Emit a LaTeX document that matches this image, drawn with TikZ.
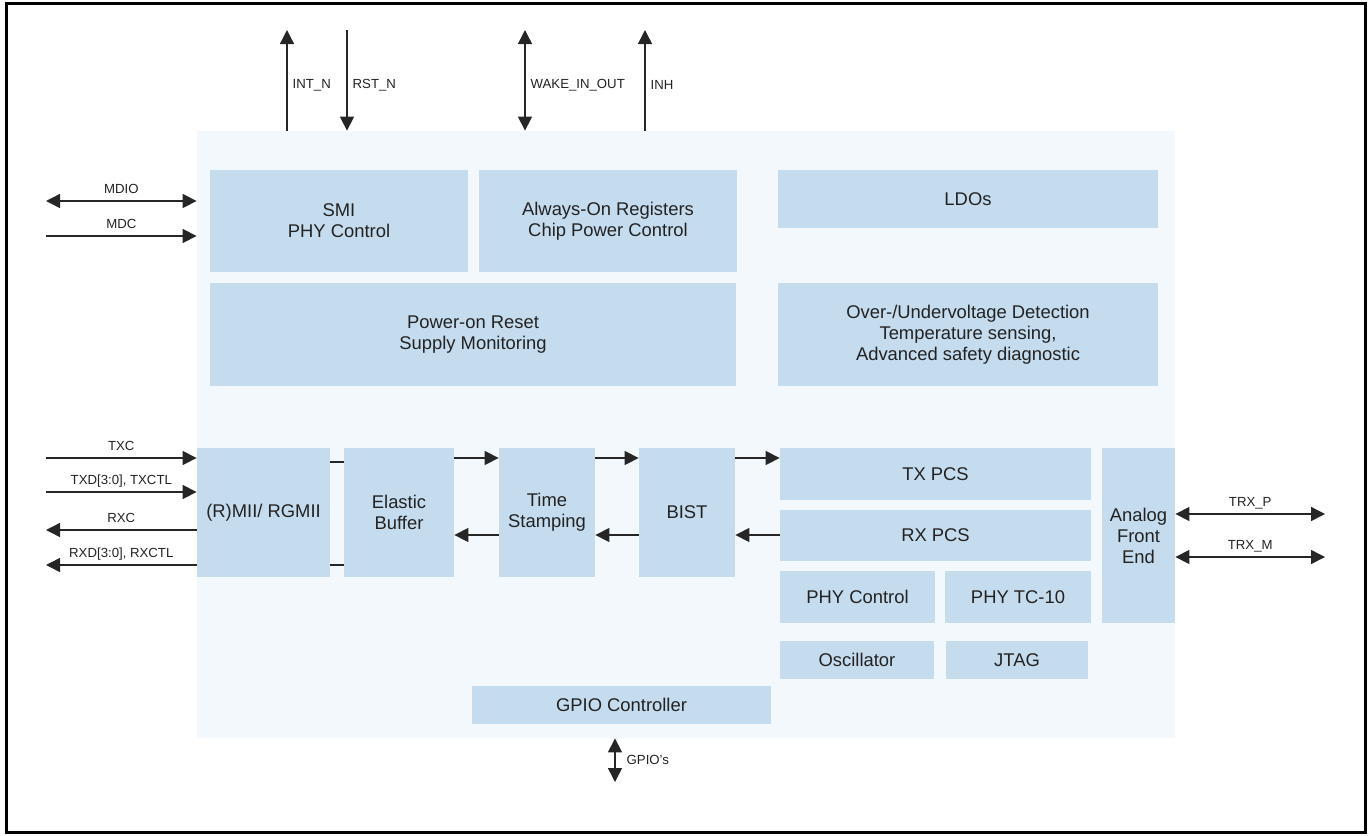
\documentclass[tikz,border=0pt]{standalone}
\usepackage{fontspec}
\setmainfont{Liberation Sans}
\usetikzlibrary{arrows.meta,fit}
\definecolor{boxc}{HTML}{C5DCEF}
\definecolor{panelc}{HTML}{F3F8FC}
\definecolor{txt}{HTML}{222222}
\definecolor{ln}{HTML}{262626}
\begin{document}
\begin{tikzpicture}[x=0.5pt,y=-0.5pt,
  box/.style={fill=boxc,draw=none,inner sep=0pt},
  bt/.style={align=center,inner sep=0pt,font=\fontsize{9.2}{10.5}\selectfont,text=txt},
  sig/.style={draw=ln,line width=0.7pt,-{Triangle[length=7pt,width=7pt]}},
  dsig/.style={draw=ln,line width=0.7pt,{Triangle[length=7pt,width=7pt]}-{Triangle[length=7pt,width=7pt]}},
  plain/.style={draw=ln,line width=0.7pt},
  lbl/.style={font=\fontsize{6.6}{7}\selectfont,text=txt,inner sep=0pt},
  hl/.style={lbl,midway,anchor=base,yshift=3.6pt},
  vl/.style={lbl,anchor=west,xshift=2.5pt}]
\useasboundingbox (0,0) rectangle (1369,835);
\draw[black,line width=1.5pt] (6,3) rectangle (1365,832);

% panel
\node[fill=panelc,inner sep=0pt,fit={(197,131) (1175,738)}] (panel) {};

% blocks
\node[box,fit={(210,170) (468,272)},label={[bt]center:SMI\\PHY Control}] (smi) {};
\node[box,fit={(479,170) (737,272)},label={[bt]center:Always-On Registers\\Chip Power Control}] (aon) {};
\node[box,fit={(778,170) (1158,228)},label={[bt]center:LDOs}] (ldo) {};
\node[box,fit={(210,283) (736,386)},label={[bt]center:Power-on Reset\\Supply Monitoring}] (por) {};
\node[box,fit={(778,283) (1158,386)},label={[bt]center:Over-/Undervoltage Detection\\Temperature sensing,\\Advanced safety diagnostic}] (ovd) {};
\node[box,fit={(197,448) (330,577)},label={[bt]center:(R)MII/ RGMII}] (rmii) {};
\node[box,fit={(344,448) (454,577)},label={[bt]center:Elastic\\Buffer}] (eb) {};
\node[box,fit={(499,448) (595,577)},label={[bt]center:Time\\Stamping}] (ts) {};
\node[box,fit={(639,448) (735,577)},label={[bt]center:BIST}] (bist) {};
\node[box,fit={(780,448) (1091,500)},label={[bt]center:TX PCS}] (txpcs) {};
\node[box,fit={(780,510) (1091,561)},label={[bt]center:RX PCS}] (rxpcs) {};
\node[box,fit={(780,571) (935,623)},label={[bt]center:PHY Control}] (phyc) {};
\node[box,fit={(945,571) (1091,623)},label={[bt]center:PHY TC-10}] (tc10) {};
\node[box,fit={(780,641) (934,679)},label={[bt]center:Oscillator}] (osc) {};
\node[box,fit={(946,641) (1088,679)},label={[bt]center:JTAG}] (jtag) {};
\node[box,fit={(1102,448) (1175,623)},label={[bt]center:Analog\\Front\\End}] (afe) {};
\node[box,fit={(472,686) (771,724)},label={[bt]center:GPIO Controller}] (gpio) {};

% free ends
\coordinate (intN) at (287,30);
\coordinate (rstN) at (347,30);
\coordinate (wake) at (525,30);
\coordinate (inh) at (645,30);
\coordinate (mdio) at (46,201);
\coordinate (mdc) at (46,236);
\coordinate (txc) at (46,458);
\coordinate (txd) at (46,492);
\coordinate (rxc) at (46,530);
\coordinate (rxd) at (46,565);
\coordinate (trxp) at (1325,514);
\coordinate (trxm) at (1325,557);
\coordinate (gpios) at (615,782);
\coordinate (rowA) at (0,458);
\coordinate (rowB) at (0,535);
\coordinate (rowC) at (0,462);
\coordinate (rowD) at (0,565);

% top signals
\draw[sig] (intN |- panel.north) -- (intN) node[vl,pos=0.45] {INT\_N};
\draw[sig] (rstN) -- (rstN |- panel.north) node[vl,pos=0.55] {RST\_N};
\draw[dsig] (wake) -- (wake |- panel.north) node[vl,pos=0.55] {WAKE\_IN\_OUT};
\draw[sig] (inh |- panel.north) -- (inh) node[vl,pos=0.45] {INH};

% left signals
\draw[dsig] (mdio) -- (mdio -| panel.west) node[hl] {MDIO};
\draw[sig] (mdc) -- (mdc -| panel.west) node[hl] {MDC};
\draw[sig] (txc) -- (txc -| rmii.west) node[hl] {TXC};
\draw[sig] (txd) -- (txd -| rmii.west) node[hl] {TXD[3:0], TXCTL};
\draw[sig] (rxc -| rmii.west) -- (rxc) node[hl] {RXC};
\draw[sig] (rxd -| rmii.west) -- (rxd) node[hl] {RXD[3:0], RXCTL};

% internal datapath
\draw[plain] (rmii.east |- rowC) -- (eb.west |- rowC);
\draw[plain] (rmii.east |- rowD) -- (eb.west |- rowD);
\draw[sig] (eb.east |- rowA) -- (ts.west |- rowA);
\draw[sig] (ts.west |- rowB) -- (eb.east |- rowB);
\draw[sig] (ts.east |- rowA) -- (bist.west |- rowA);
\draw[sig] (bist.west |- rowB) -- (ts.east |- rowB);
\draw[sig] (bist.east |- rowA) -- (txpcs.west |- rowA);
\draw[sig] (rxpcs.west |- rowB) -- (bist.east |- rowB);

% right signals
\draw[dsig] (afe.east |- trxp) -- (trxp) node[hl] {TRX\_P};
\draw[dsig] (afe.east |- trxm) -- (trxm) node[hl] {TRX\_M};

% GPIO
\draw[dsig] (gpios |- panel.south) -- (gpios) node[vl,midway,xshift=3pt] {GPIO's};
\end{tikzpicture}
\end{document}
